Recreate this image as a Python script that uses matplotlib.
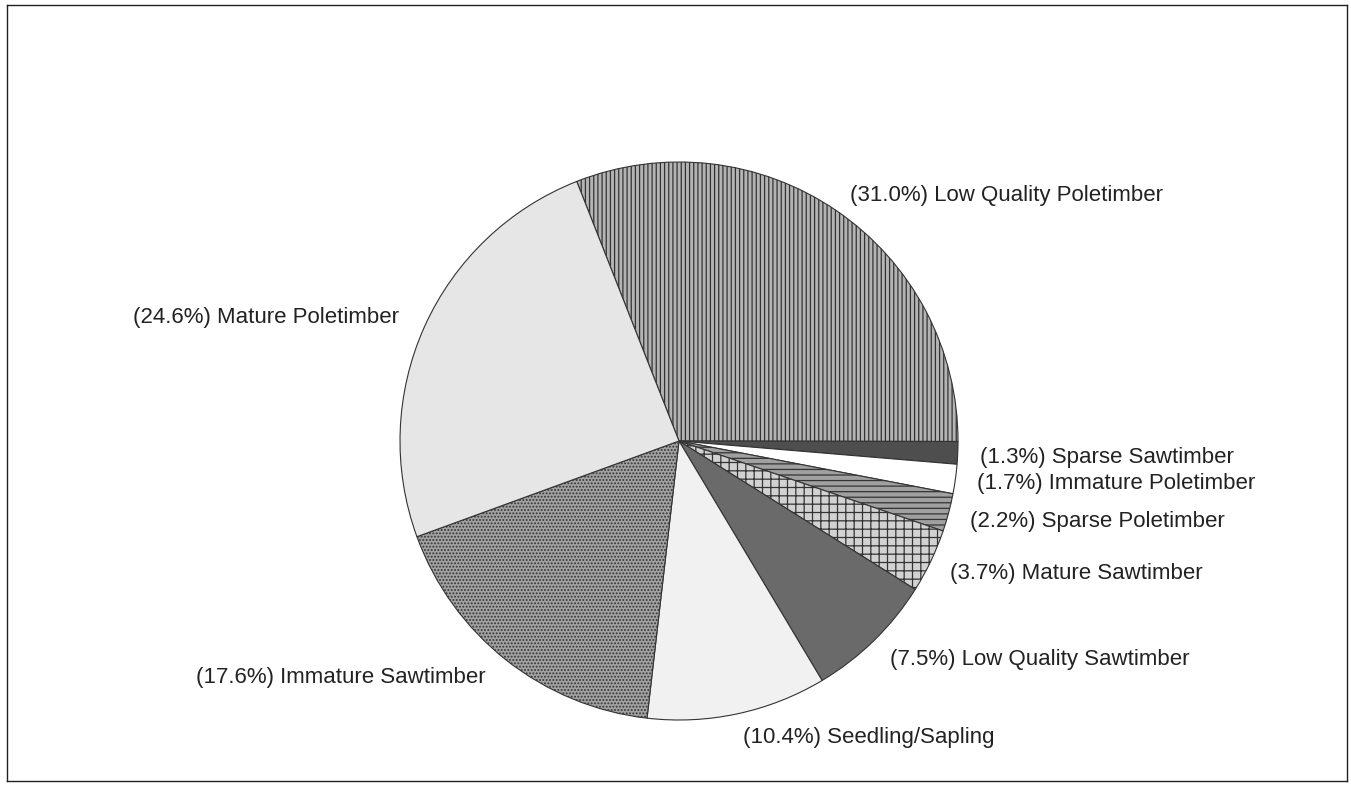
import matplotlib.pyplot as plt

plt.rcParams['font.family'] = ['Liberation Sans', 'DejaVu Sans']
plt.rcParams['hatch.linewidth'] = 0.9

categories = ['Low Quality Poletimber', 'Sparse Sawtimber', 'Immature Poletimber',
              'Sparse Poletimber', 'Mature Sawtimber', 'Low Quality Sawtimber',
              'Seedling/Sapling', 'Immature Sawtimber', 'Mature Poletimber']
shares = [31.0, 1.3, 1.7, 2.2, 3.7, 7.5, 10.4, 17.6, 24.6]

# grayscale fills, like the printed original
faces = ['#b4b4b4', '#4e4e4e', '#ffffff', '#a0a0a0', '#d2d2d2',
         '#6a6a6a', '#f1f1f1', '#a2a2a2', '#e6e6e6']
hatches = ['||||', None, None, '---', '++', None, None, '.....', None]

# label anchor points in pixel space (x, y from top, alignment)
label_pos = [(850, 195, 'left'), (980, 457, 'left'), (977, 483, 'left'),
             (970, 521, 'left'), (950, 573, 'left'), (890, 660, 'left'),
             (743, 737, 'left'), (196, 677, 'left'), (133, 318, 'left')]

W, H = 1351, 788
fig = plt.figure(figsize=(W / 100, H / 100), dpi=100)
ax = fig.add_axes([7 / W, 7 / H, 1340 / W, 776 / H])

wedges, _ = ax.pie(shares, startangle=111.5, counterclock=False,
                   center=(679, H - 441), radius=279, colors=faces, frame=True,
                   wedgeprops=dict(edgecolor='#333333', linewidth=0.8))
ax.set_aspect('auto')
ax.set_xlim(7, 1347)
ax.set_ylim(7, 783)
ax.set_xticks([])
ax.set_yticks([])
for s in ax.spines.values():
    s.set_linewidth(1.0)
    s.set_color('#222222')
for w, h in zip(wedges, hatches):
    if h:
        w.set_hatch(h)

for name, val, (x, y, ha) in zip(categories, shares, label_pos):
    ax.text(x, H - y, f'({val:.1f}%) {name}', ha=ha, va='center',
            fontsize=16, color='#222222')

fig.savefig('out.png', dpi=100)
